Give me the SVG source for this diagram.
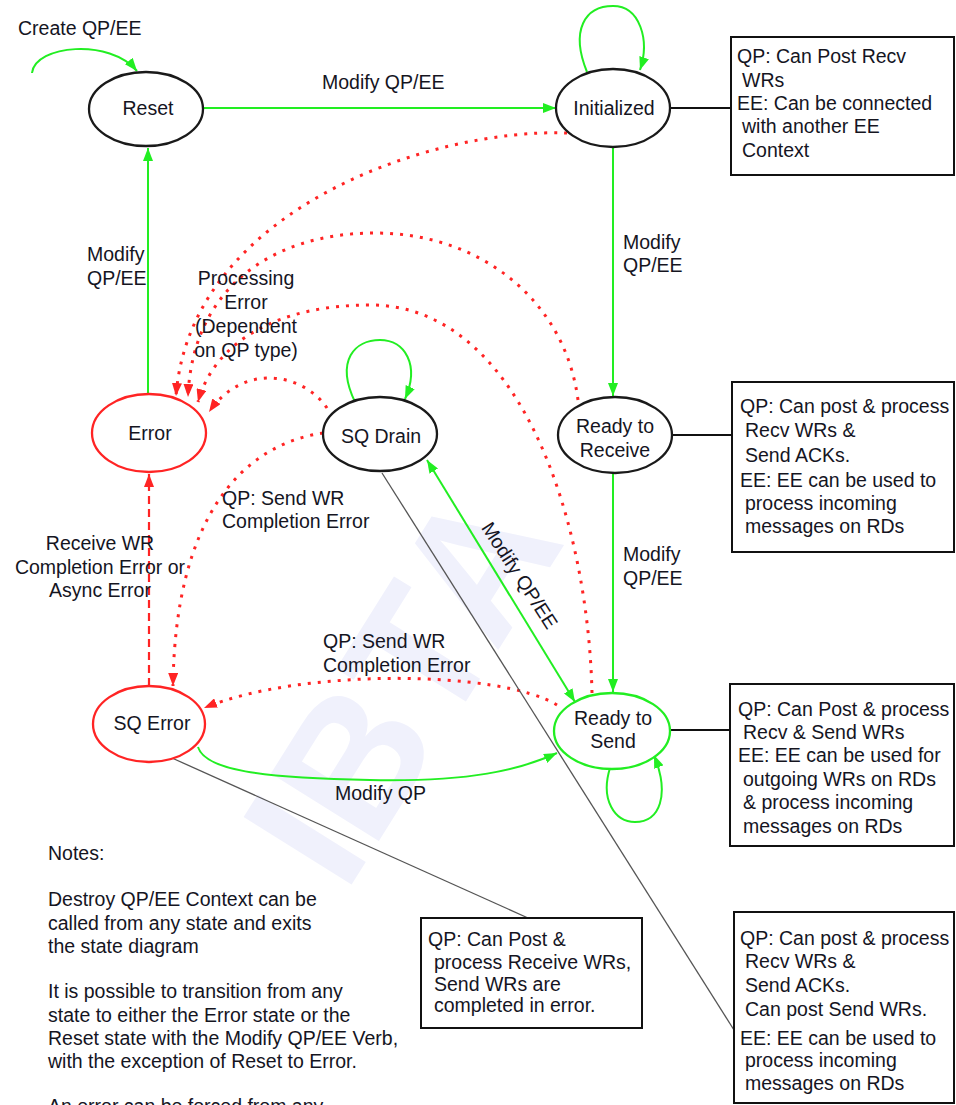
<svg xmlns="http://www.w3.org/2000/svg" width="956" height="1105" viewBox="0 0 956 1105">
  <defs>
    <style>
      .t { font-family: "Liberation Sans", Arial, sans-serif; font-size: 19.5px; fill: #15151f; }
      .m { text-anchor: middle; }
      .node { fill: #fff; stroke-width: 2.3; }
      .blk { stroke: #1a1a1a; }
      .red { stroke: #ff2424; }
      .grn { stroke: #22ee22; }
      .box { fill: #fff; stroke: #111; stroke-width: 2; }
      .g { fill: none; stroke: #22ee22; stroke-width: 2; }
      .r { fill: none; stroke: #ff2424; stroke-width: 3; stroke-dasharray: 3 7; }
      .rd { fill: none; stroke: #ff2424; stroke-width: 2.2; stroke-dasharray: 8 5; }
      .k { fill: none; stroke: #111; stroke-width: 2; }
      .thin { fill: none; stroke: #555; stroke-width: 1.3; }
      .wm { font-family: "Liberation Sans", Arial, sans-serif; font-weight: bold; font-size: 185px; fill: #f0f1fc; }
    </style>
    <marker id="ag" markerUnits="userSpaceOnUse" markerWidth="14" markerHeight="10" refX="13" refY="5" orient="auto-start-reverse">
      <path d="M0,0 L13,5 L0,10 z" fill="#22ee22"/>
    </marker>
    <marker id="ar" markerUnits="userSpaceOnUse" markerWidth="14" markerHeight="10" refX="13" refY="5" orient="auto">
      <path d="M0,0 L13,5 L0,10 z" fill="#ff2424"/>
    </marker>
  </defs>

  <rect width="956" height="1105" fill="#fff"/>

  <!-- faint background watermark -->
  <text class="wm" transform="translate(345 895) rotate(-58)">IBTA</text>

  <!-- transitions -->
  <g id="connectors">
    <!-- green: verb-driven transitions -->
    <path class="g" d="M32 73 C35 45 110 38 137 71" marker-end="url(#ag)"/>
    <path class="g" d="M203 108 L556 108" marker-end="url(#ag)"/>
    <path class="g" d="M587 72 C570 30 585 6 613 6 C640 6 650 40 640 70" marker-end="url(#ag)"/>
    <path class="g" d="M613 147 L613 396" marker-end="url(#ag)"/>
    <path class="g" d="M613 473 L613 692" marker-end="url(#ag)"/>
    <path class="g" d="M148 393 L148 148" marker-end="url(#ag)"/>
    <path class="g" d="M427 460 L575 702" marker-start="url(#ag)" marker-end="url(#ag)"/>
    <path class="g" d="M355 402 C335 360 355 340 380 340 C405 340 420 365 405 399" marker-end="url(#ag)"/>
    <path class="g" d="M610 768 C600 800 615 822 635 822 C660 822 670 795 654 755" marker-end="url(#ag)"/>
    <path class="g" d="M198 747 C205 770 260 778 370 780 C470 782 520 770 557 753" stroke-width="3" marker-end="url(#ag)"/>

    <!-- red: error transitions -->
    <path class="r" d="M567 133 C430 128 190 210 176 396" marker-end="url(#ar)"/>
    <path class="r" d="M578 400 C565 300 480 233 375 233 C270 233 192 290 188 397" marker-end="url(#ar)"/>
    <path class="r" d="M592 693 C588 520 520 305 370 305 C280 305 215 340 198 402" marker-end="url(#ar)"/>
    <path class="r" d="M327 408 C305 375 245 360 209 412" marker-end="url(#ar)"/>
    <path class="r" d="M323 433 C240 445 175 520 173 686" marker-end="url(#ar)"/>
    <path class="r" d="M557 705 C500 670 300 668 204 708" marker-end="url(#ar)"/>
    <path class="rd" d="M149 686 L149 474" marker-end="url(#ar)"/>

    <!-- state-to-description links -->
    <path class="k" d="M670 108 L731 108"/>
    <path class="k" d="M672 435 L732 435"/>
    <path class="k" d="M670 730 L730 730"/>
    <path class="thin" d="M382 473 L734 1030"/>
    <path class="thin" d="M172 758 L528 918"/>
  </g>

  <!-- transition labels -->
  <g id="labels">
    <text class="t" x="18" y="35">Create QP/EE</text>
    <text class="t" x="322" y="89">Modify QP/EE</text>
    <text class="t" x="87" y="261">Modify</text>
    <text class="t" x="87" y="285">QP/EE</text>
    <text class="t" x="623" y="249">Modify</text>
    <text class="t" x="623" y="272">QP/EE</text>
    <text class="t" x="623" y="561">Modify</text>
    <text class="t" x="623" y="585">QP/EE</text>
    <text class="t m" x="246" y="285">Processing</text>
    <text class="t m" x="246" y="309">Error</text>
    <text class="t m" x="246" y="333">(Dependent</text>
    <text class="t m" x="246" y="357">on QP type)</text>
    <text class="t" x="222" y="505">QP: Send WR</text>
    <text class="t" x="222" y="528">Completion Error</text>
    <text class="t m" x="100" y="550">Receive WR</text>
    <text class="t m" x="100" y="574">Completion Error or</text>
    <text class="t m" x="100" y="597">Async Error</text>
    <text class="t" x="323" y="648">QP: Send WR</text>
    <text class="t" x="323" y="672">Completion Error</text>
    <text class="t" x="335" y="800">Modify QP</text>
    <text class="t m" transform="translate(514 579) rotate(57)">Modify QP/EE</text>
  </g>

  <!-- states -->
  <g id="reset">
    <ellipse class="node blk" cx="146" cy="109" rx="57" ry="37"/>
    <text class="t m" x="148" y="115">Reset</text>
  </g>
  <g id="initialized">
    <ellipse class="node blk" cx="613" cy="108" rx="57" ry="39"/>
    <text class="t m" x="614" y="115">Initialized</text>
  </g>
  <g id="ready-to-receive">
    <ellipse class="node blk" cx="615" cy="435" rx="57" ry="38"/>
    <text class="t m" x="615" y="433">Ready to</text>
    <text class="t m" x="615" y="457">Receive</text>
  </g>
  <g id="error">
    <ellipse class="node red" cx="149" cy="433" rx="57" ry="39"/>
    <text class="t m" x="150" y="440">Error</text>
  </g>
  <g id="sq-drain">
    <ellipse class="node blk" cx="380" cy="434" rx="57" ry="37"/>
    <text class="t m" x="381" y="443">SQ Drain</text>
  </g>
  <g id="sq-error">
    <ellipse class="node red" cx="149" cy="724" rx="56" ry="38"/>
    <text class="t m" x="152" y="730">SQ Error</text>
  </g>
  <g id="ready-to-send">
    <ellipse class="node grn" cx="612" cy="731" rx="58" ry="38"/>
    <text class="t m" x="613" y="725">Ready to</text>
    <text class="t m" x="613" y="748">Send</text>
  </g>

  <!-- state descriptions -->
  <g id="note-initialized">
    <rect class="box" x="731" y="37" width="223" height="138"/>
    <text class="t" x="737" y="63">QP: Can Post Recv</text>
    <text class="t" x="742" y="87">WRs</text>
    <text class="t" x="737" y="110">EE: Can be connected</text>
    <text class="t" x="742" y="133">with another EE</text>
    <text class="t" x="742" y="157">Context</text>
  </g>
  <g id="note-rtr">
    <rect class="box" x="732" y="382" width="222" height="170"/>
    <text class="t" x="740" y="413">QP: Can post &amp; process</text>
    <text class="t" x="745" y="437">Recv WRs &amp;</text>
    <text class="t" x="745" y="462">Send ACKs.</text>
    <text class="t" x="740" y="487">EE: EE can be used to</text>
    <text class="t" x="745" y="510">process incoming</text>
    <text class="t" x="745" y="533">messages on RDs</text>
  </g>
  <g id="note-rts">
    <rect class="box" x="730" y="684" width="224" height="162"/>
    <text class="t" x="738" y="716">QP: Can Post &amp; process</text>
    <text class="t" x="743" y="739">Recv &amp; Send WRs</text>
    <text class="t" x="738" y="762">EE: EE can be used for</text>
    <text class="t" x="743" y="786">outgoing WRs on RDs</text>
    <text class="t" x="743" y="809">&amp; process incoming</text>
    <text class="t" x="743" y="833">messages on RDs</text>
  </g>
  <g id="note-sq-error">
    <rect class="box" x="421" y="918" width="221" height="110"/>
    <text class="t" x="428" y="946">QP: Can Post &amp;</text>
    <text class="t" x="434" y="969">process Receive WRs,</text>
    <text class="t" x="434" y="991">Send WRs are</text>
    <text class="t" x="434" y="1012">completed in error.</text>
  </g>
  <g id="note-sq-drain">
    <rect class="box" x="734" y="912" width="220" height="191"/>
    <text class="t" x="740" y="945">QP: Can post &amp; process</text>
    <text class="t" x="745" y="968">Recv WRs &amp;</text>
    <text class="t" x="745" y="992">Send ACKs.</text>
    <text class="t" x="745" y="1016">Can post Send WRs.</text>
    <text class="t" x="740" y="1045">EE: EE can be used to</text>
    <text class="t" x="745" y="1067">process incoming</text>
    <text class="t" x="745" y="1090">messages on RDs</text>
  </g>

  <!-- general notes (the last line runs past the bottom edge) -->
  <g id="notes">
    <text class="t" x="48" y="860">Notes:</text>
    <text class="t" x="48" y="906">Destroy QP/EE Context can be</text>
    <text class="t" x="48" y="930">called from any state and exits</text>
    <text class="t" x="48" y="953">the state diagram</text>
    <text class="t" x="48" y="998">It is possible to transition from any</text>
    <text class="t" x="48" y="1022">state to either the Error state or the</text>
    <text class="t" x="48" y="1045">Reset state with the Modify QP/EE Verb,</text>
    <text class="t" x="48" y="1068">with the exception of Reset to Error.</text>
    <text class="t" x="48" y="1113">An error can be forced from any</text>
  </g>
</svg>
